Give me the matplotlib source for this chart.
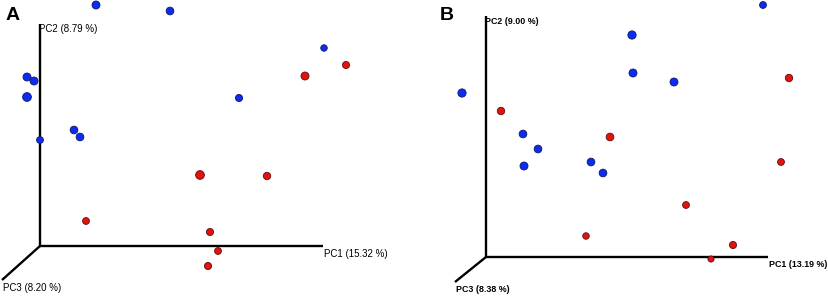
import matplotlib.pyplot as plt
import numpy as np

# point positions (pixel space of the 829x296 figure)
a_blue_x = [96, 170, 324, 27, 34, 27, 239, 74, 80, 40]
a_blue_y = [5, 11, 48, 77, 81, 97, 98, 130, 137, 140]
a_blue_s = [30, 28, 20, 30, 30, 36, 24, 28, 28, 22]

a_red_x = [346, 305, 200, 267, 86, 210, 218, 208]
a_red_y = [65, 76, 175, 176, 221, 232, 251, 266]
a_red_s = [24, 30, 36, 26, 22, 24, 22, 24]

b_blue_x = [763, 632, 633, 674, 462, 523, 538, 524, 591, 603]
b_blue_y = [5, 35, 73, 82, 93, 134, 149, 166, 162, 173]
b_blue_s = [22, 32, 30, 30, 32, 28, 28, 30, 28, 28]

b_red_x = [789, 501, 610, 781, 686, 586, 733, 711]
b_red_y = [78, 111, 137, 162, 205, 236, 245, 259]
b_red_s = [26, 26, 28, 22, 22, 20, 24, 18]

# axis frames: origin, PC2 top, PC1 end, PC3 end
a_axes = {"origin": (40, 246), "pc2": (40, 24), "pc1": (323, 246), "pc3": (2, 280)}
b_axes = {"origin": (486, 257), "pc2": (486, 16), "pc1": (768, 257), "pc3": (455, 282)}

a_labels = ["PC1 (15.32 %)", "PC2 (8.79 %)", "PC3 (8.20 %)"]
b_labels = ["PC1 (13.19 %)", "PC2 (9.00 %)", "PC3 (8.38 %)"]

blue = "#0b2cf2"
red = "#e3120c"

fig = plt.figure(figsize=(8.29, 2.96), dpi=100)
ax = fig.add_axes([0, 0, 1, 1])
ax.set_xlim(0, 829)
ax.set_ylim(296, 0)
ax.axis("off")


def draw_frame(frame, labels, letter, letter_pos, fs, weight):
    o = frame["origin"]
    for key in ["pc2", "pc1", "pc3"]:
        e = frame[key]
        ax.plot([o[0], e[0]], [o[1], e[1]], color="black", lw=1.7,
                solid_capstyle="butt", zorder=1)
    pc1, pc2, pc3 = frame["pc1"], frame["pc2"], frame["pc3"]
    kw = dict(fontsize=fs, family="Liberation Sans", fontweight=weight, ha="left")
    ax.text(pc1[0] + 1, pc1[1] + 3, labels[0], va="top", **kw)
    ax.text(pc2[0] - 1, pc2[1] + 5, labels[1], va="center", **kw)
    ax.text(pc3[0] + 1, pc3[1] + 3, labels[2], va="top", **kw)
    ax.text(letter_pos[0], letter_pos[1], letter, fontsize=14, fontweight="bold",
            family="Liberation Sans", va="center", ha="left")


draw_frame(a_axes, a_labels, "A", (6, 16), 7, "normal")
draw_frame(b_axes, b_labels, "B", (440, 15), 6.4, "bold")

for xs, ys, ss, c, ec in [(a_blue_x, a_blue_y, a_blue_s, blue, "#101860"),
                          (a_red_x, a_red_y, a_red_s, red, "#5a1010"),
                          (b_blue_x, b_blue_y, b_blue_s, blue, "#101860"),
                          (b_red_x, b_red_y, b_red_s, red, "#5a1010")]:
    ax.scatter(xs, ys, s=np.array(ss) * 1.1, color=c, edgecolors=ec,
               linewidths=0.6, zorder=3)

plt.savefig("out.png", dpi=100)
